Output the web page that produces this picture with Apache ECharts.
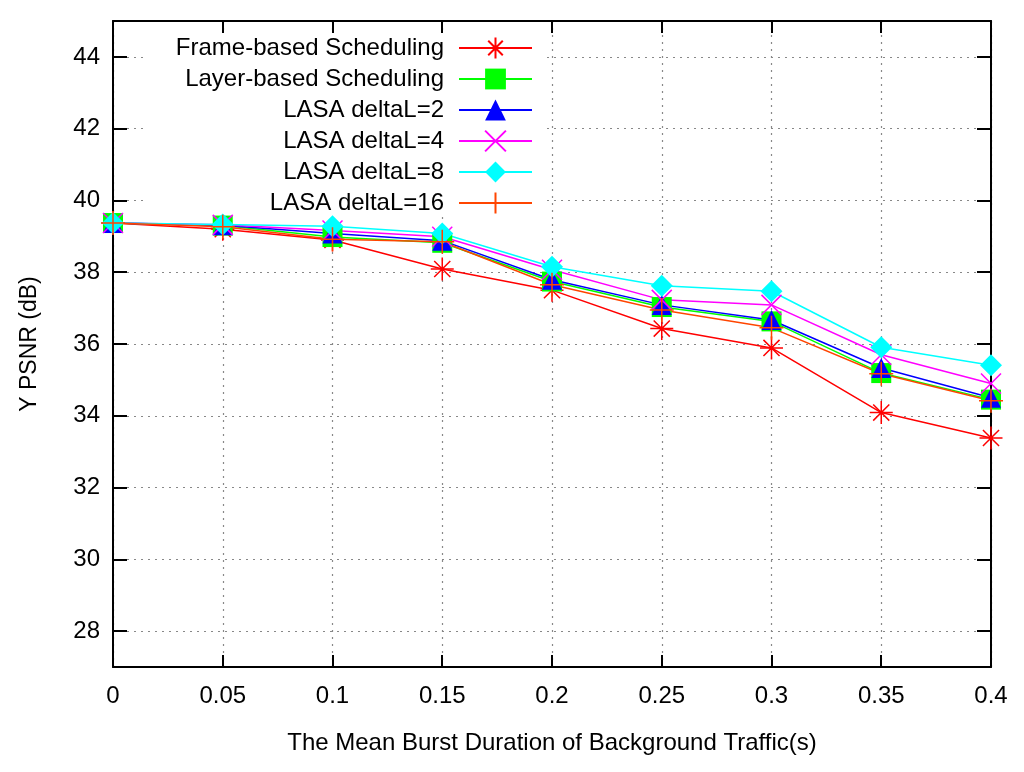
<!DOCTYPE html>
<html>
<head>
<meta charset="utf-8">
<script src="https://cdn.jsdelivr.net/npm/echarts@6/dist/echarts.min.js"></script>
<style>
html,body{margin:0;padding:0;background:#fff;}
#chart{width:1024px;height:772px;}
</style>
</head>
<body>
<div id="chart"></div>
<script>
const xValues = [0, 0.05, 0.1, 0.15, 0.2, 0.25, 0.3, 0.35, 0.4];
const xTicks = [0, 0.05, 0.1, 0.15, 0.2, 0.25, 0.3, 0.35, 0.4];
const yTicks = [28, 30, 32, 34, 36, 38, 40, 42, 44];
const seriesNames = ['Frame-based Scheduling', 'Layer-based Scheduling', 'LASA deltaL=2', 'LASA deltaL=4', 'LASA deltaL=8', 'LASA deltaL=16'];
const frameBased = [39.37, 39.20, 38.90, 38.09, 37.50, 36.43, 35.89, 34.09, 33.38];
const layerBased = [39.37, 39.30, 38.98, 38.82, 37.74, 37.03, 36.63, 35.19, 34.45];
const lasa2 = [39.37, 39.31, 39.08, 38.88, 37.79, 37.09, 36.67, 35.33, 34.50];
const lasa4 = [39.37, 39.32, 39.16, 38.99, 38.07, 37.23, 37.09, 35.70, 34.90];
const lasa8 = [39.37, 39.33, 39.28, 39.08, 38.15, 37.62, 37.47, 35.91, 35.41];
const lasa16 = [39.37, 39.27, 38.92, 38.85, 37.65, 36.95, 36.45, 35.17, 34.42];

const seriesValues = [frameBased, layerBased, lasa2, lasa4, lasa8, lasa16];
const colors = ['#ff0000', '#00ff00', '#0000ff', '#ff00ff', '#00ffff', '#ff4500'];
const symbols = [
  'path://M0,10L20,10M10,0L10,20M3,3L17,17M17,3L3,17',
  'rect',
  'triangle',
  'path://M0,0L20,20M20,0L0,20',
  'diamond',
  'path://M10,0L10,20M0,10L20,10'
];
const symbolSizes = [23, 20, 20, 20, 22, 24];
const lineSym = [true, false, false, true, false, true];

const FONT = 'Liberation Sans';
const chart = echarts.init(document.getElementById('chart'));

const series = seriesNames.map((name, i) => ({
  name: name,
  type: 'line',
  xAxisIndex: 0,
  yAxisIndex: 0,
  data: xValues.map((x, j) => [x, seriesValues[i][j]]),
  symbol: symbols[i],
  symbolSize: symbolSizes[i],
  showAllSymbol: true,
  lineStyle: { color: colors[i], width: 1.5 },
  itemStyle: lineSym[i]
    ? { color: 'rgba(0,0,0,0)', borderColor: colors[i], borderWidth: 1.5 }
    : { color: colors[i], borderWidth: 0 },
  emphasis: { disabled: true },
  animation: false
}));

const dotted = { color: '#888', width: 1.2, type: [2, 5] };

chart.setOption({
  backgroundColor: '#fff',
  animation: false,
  textStyle: { fontFamily: FONT },
  grid: { left: 113, right: 33, top: 21, bottom: 105, containLabel: false },
  legend: {
    data: seriesNames,
    orient: 'vertical',
    align: 'right',
    right: 1024 - 545,
    top: 35,
    z: 1,
    backgroundColor: '#fff',
    padding: [1, 12, 0, 30],
    itemWidth: 73,
    itemHeight: 26,
    itemGap: 7,
    textStyle: { fontFamily: FONT, fontSize: 24, color: '#000', lineHeight: 24, padding: [0, 10, 0, 0] },
    selectedMode: false
  },
  xAxis: [
    {
      type: 'value', min: 0, max: 0.4, position: 'bottom',
      name: 'The Mean Burst Duration of Background Traffic(s)',
      nameLocation: 'middle', nameGap: 64,
      nameTextStyle: { fontFamily: FONT, fontSize: 24, color: '#000' },
      axisLine: { show: true, onZero: false, lineStyle: { color: '#000', width: 2 } },
      axisTick: { show: true, inside: true, length: 12, customValues: xTicks, lineStyle: { color: '#000', width: 2 } },
      axisLabel: { customValues: xTicks, margin: 17, fontFamily: FONT, fontSize: 24, color: '#000', formatter: v => String(+v.toFixed(2)) },
      splitLine: { show: true, lineStyle: dotted }
    },
    {
      type: 'value', min: 0, max: 0.4, position: 'top',
      axisLine: { show: true, onZero: false, lineStyle: { color: '#000', width: 2 } },
      axisTick: { show: true, inside: true, length: 12, customValues: xTicks, lineStyle: { color: '#000', width: 2 } },
      axisLabel: { show: false },
      splitLine: { show: false }
    }
  ],
  yAxis: [
    {
      type: 'value', min: 27, max: 45, position: 'left',
      name: 'Y PSNR (dB)', nameLocation: 'middle', nameGap: 72,
      nameTextStyle: { fontFamily: FONT, fontSize: 23, color: '#000' },
      axisLine: { show: true, onZero: false, lineStyle: { color: '#000', width: 2 } },
      axisTick: { show: true, inside: true, length: 14, customValues: yTicks, lineStyle: { color: '#000', width: 2 } },
      axisLabel: { customValues: yTicks, margin: 13, fontFamily: FONT, fontSize: 24, color: '#000' },
      splitLine: { show: true, lineStyle: dotted }
    },
    {
      type: 'value', min: 27, max: 45, position: 'right',
      axisLine: { show: true, onZero: false, lineStyle: { color: '#000', width: 2 } },
      axisTick: { show: true, inside: true, length: 14, customValues: yTicks, lineStyle: { color: '#000', width: 2 } },
      axisLabel: { show: false },
      splitLine: { show: false }
    }
  ],
  series: series
});
</script>
</body>
</html>
